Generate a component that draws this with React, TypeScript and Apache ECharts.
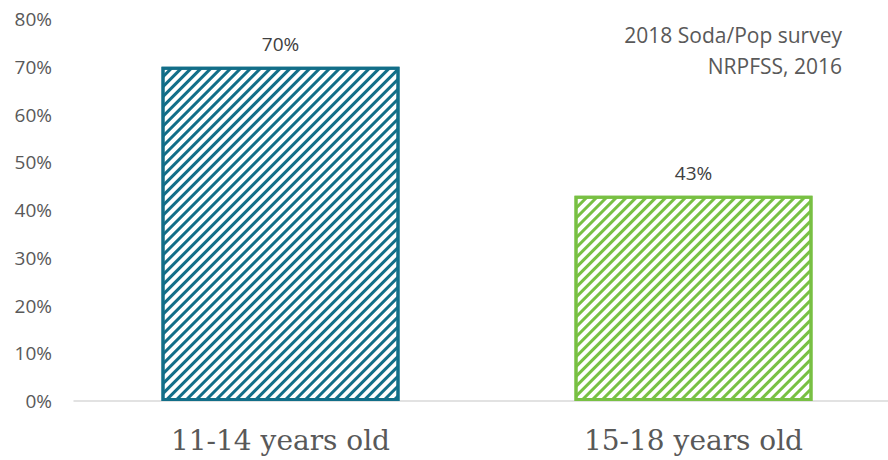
import React, { useEffect, useRef } from "react";
import * as echarts from "echarts";

const categories = ["11-14 years old", "15-18 years old"];
const values = [70, 43];
const barColors = ["#126E88", "#78C043"];
const yTicks = [0, 10, 20, 30, 40, 50, 60, 70, 80];
const noteLines = ["2018 Soda/Pop survey", "NRPFSS, 2016"];

export default function App() {
  const ref = useRef<HTMLDivElement>(null);
  useEffect(() => {
    if (!ref.current) return;
    const chart = echarts.init(ref.current, undefined, { renderer: "svg" });
    chart.setOption({
      animation: false,
      aria: { enabled: true, decal: { show: true } },
      grid: { left: 74, right: 0, top: 19, bottom: 59 },
      xAxis: {
        type: "category",
        data: categories,
        axisLine: { show: true, lineStyle: { color: "#d9d9d9", width: 1.5 } },
        axisTick: { show: false },
        axisLabel: {
          color: "#595959",
          fontFamily: "DejaVu Serif",
          fontSize: 28,
          margin: 25,
        },
      },
      yAxis: {
        type: "value",
        min: yTicks[0],
        max: yTicks[yTicks.length - 1],
        interval: 10,
        splitLine: { show: false },
        axisLine: { show: false },
        axisTick: { show: false },
        axisLabel: {
          color: "#595959",
          fontFamily: "Open Sans",
          fontSize: 19,
          margin: 22,
          formatter: "{value}%",
        },
      },
      series: [
        {
          type: "bar",
          barWidth: 238,
          data: values.map((v, i) => ({
            value: v,
            itemStyle: {
              color: "#ffffff",
              borderColor: barColors[i],
              borderWidth: 3,
              decal: {
                symbol: "rect",
                color: barColors[i],
                dashArrayX: [1, 0],
                dashArrayY: [3, 3.4],
                rotation: -Math.PI / 4,
                symbolSize: 1,
              },
            },
          })),
          label: {
            show: true,
            position: "top",
            distance: 13,
            color: "#404040",
            fontFamily: "Open Sans",
            fontSize: 19,
            formatter: "{c}%",
          },
        },
      ],
      graphic: noteLines.map((t, i) => ({
        type: "text",
        right: 58,
        top: 24 + i * 31,
        style: {
          text: t,
          fill: "#595959",
          font: "21px 'Open Sans'",
          textAlign: "right",
        },
      })),
    });
    return () => chart.dispose();
  }, []);
  return (
    <div
      style={{
        position: "absolute",
        left: 0,
        top: 0,
        width: 888,
        height: 460,
        overflow: "hidden",
      }}
    >
      <div ref={ref} style={{ width: 900, height: 460 }} />
    </div>
  );
}
